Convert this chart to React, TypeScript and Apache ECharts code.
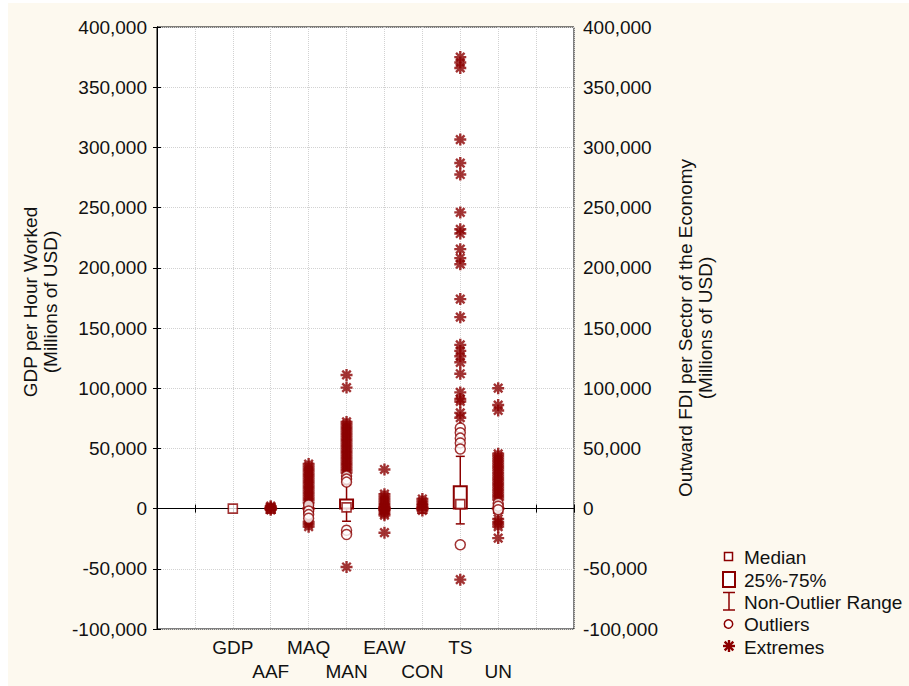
import React, { useEffect, useRef } from "react";
import * as echarts from "echarts";

// ---------- data ----------
const CATEGORIES = ["GDP", "AAF", "MAQ", "MAN", "EAW", "CON", "TS", "UN"];
const CAT_OFFSET = 2; // first category sits on the third tick of the x scale
const X_MAX = 11;

const Y_MIN = -100000;
const Y_MAX = 400000;
const Y_STEP = 50000;

// box statistics (null = no box drawn)
const Q1 = [null, 0, 0, 0, 0, 0, 0, 0];
const Q3 = [null, 0, 0, 7500, 0, 0, 18500, 0];
const MEDIAN = [0, 0, 0, 1000, 0, 0, 3700, 0];
const WHISKER_LOW = [null, 0, 0, -10500, 0, 0, -12700, 0];
const WHISKER_HIGH = [null, 0, 0, 20000, 0, 0, 43400, 0];

// extremes (asterisks) per category
const EXTREMES_GDP: number[] = [];
const EXTREMES_AAF = [2000, 1000, 0, -1000];
const EXTREMES_MAQ = [
  37000, 35000, 33000, 31000, 29000, 27000, 25000, 23000, 21000, 19000, 17000,
  15000, 13000, 11000, 9000, 7000, 5000, -11000, -13000, -15000,
];
const EXTREMES_MAN = [
  111000, 100500, 72000, 70000, 68000, 66000, 64000, 62000, 60000, 58000, 56000,
  54000, 52000, 50000, 48000, 46000, 44000, 42000, 40000, 38000, 36000, 34000,
  32000, 30000, -48500,
];
const EXTREMES_EAW = [
  32500, 12000, 10000, 8000, 6000, 4000, 2000, 1000, -1000, -2000, -4000, -5500,
  -20000,
];
const EXTREMES_CON = [8000, 6000, 4000, 2500, 1000, -1500];
const EXTREMES_TS = [
  375000, 370500, 366000, 306500, 287000, 277500, 246000, 232000, 228500,
  215500, 208000, 203000, 174000, 159000, 136000, 131000, 126500, 121500,
  112000, 96500, 91000, 89000, 79500, 75500, -59000,
];
const EXTREMES_UN = [
  100000, 86000, 81500, 45500, 43500, 41500, 39500, 37500, 35500, 33500, 31500,
  29500, 27500, 25500, 23500, 21500, 19500, 17500, 15500, 13500, 11500, 9500,
  7500, -8500, -11000, -13000, -15000, -24500,
];

// outliers (circles) per category
const OUTLIERS_GDP: number[] = [];
const OUTLIERS_AAF: number[] = [];
const OUTLIERS_MAQ = [3000, -2000, -5000, -8000];
const OUTLIERS_MAN = [27000, 24500, 22000, -18000, -21500];
const OUTLIERS_EAW: number[] = [];
const OUTLIERS_CON: number[] = [];
const OUTLIERS_TS = [67000, 63000, 58500, 54500, 49500, -30000];
const OUTLIERS_UN = [4500, 2000, -1000];

const EXTREMES = [
  EXTREMES_GDP, EXTREMES_AAF, EXTREMES_MAQ, EXTREMES_MAN,
  EXTREMES_EAW, EXTREMES_CON, EXTREMES_TS, EXTREMES_UN,
];
const OUTLIERS = [
  OUTLIERS_GDP, OUTLIERS_AAF, OUTLIERS_MAQ, OUTLIERS_MAN,
  OUTLIERS_EAW, OUTLIERS_CON, OUTLIERS_TS, OUTLIERS_UN,
];

const LEFT_TITLE = ["GDP per Hour Worked", "(Millions of USD)"];
const RIGHT_TITLE = ["Outward FDI per Sector of the Economy", "(Millions of USD)"];
const LEGEND_LABELS = ["Median", "25%-75%", "Non-Outlier Range", "Outliers", "Extremes"];

// ---------- styles ----------
const RED = "#8b0000";
const BG = "#fdf9ef";
const FONT = "'Liberation Sans', Arial, Helvetica, sans-serif";
const TXT = "#111";
const STAR = "path://M6,0L6,12M0,6L12,6M1.76,1.76L10.24,10.24M10.24,1.76L1.76,10.24";

export default function App() {
  const ref = useRef<HTMLDivElement>(null);

  useEffect(() => {
    if (!ref.current) return;
    const chart = echarts.init(ref.current, undefined, { renderer: "svg" });

    const boxData: any[] = [];
    CATEGORIES.forEach((c, i) => {
      if (Q1[i] === null) return;
      boxData.push([i + CAT_OFFSET, Q1[i], Q3[i], WHISKER_LOW[i], WHISKER_HIGH[i]]);
    });
    const medianData = CATEGORIES.map((c, i) => [i + CAT_OFFSET, MEDIAN[i]]);
    const extremeData: any[] = [];
    const outlierData: any[] = [];
    CATEGORIES.forEach((c, i) => {
      EXTREMES[i].forEach((v) => extremeData.push([i + CAT_OFFSET, v]));
      OUTLIERS[i].forEach((v) => outlierData.push([i + CAT_OFFSET, v]));
    });

    const fmtY = (v: number) => v.toLocaleString("en-US");
    const fmtX = (v: number) => {
      const idx = Math.round(v) - CAT_OFFSET;
      if (idx < 0 || idx >= CATEGORIES.length) return "";
      return (idx % 2 === 1 ? "\n" : "") + CATEGORIES[idx];
    };

    const grid = { left: 149, right: 335, top: 24, bottom: 57 };

    const legendY = [554, 577, 599, 621, 644];
    const legendGraphics: any[] = [
      {
        type: "rect",
        shape: { x: 716.5, y: 549.5, width: 8, height: 8 },
        style: { fill: "#fff", stroke: RED, lineWidth: 1.5 },
      },
      {
        type: "rect",
        shape: { x: 715, y: 569, width: 12, height: 15 },
        style: { fill: "#fff", stroke: RED, lineWidth: 2 },
      },
      {
        type: "group",
        children: [
          { type: "line", shape: { x1: 715, y1: 589.5, x2: 727, y2: 589.5 }, style: { stroke: RED, lineWidth: 1.5 } },
          { type: "line", shape: { x1: 715, y1: 607, x2: 727, y2: 607 }, style: { stroke: RED, lineWidth: 1.5 } },
          { type: "line", shape: { x1: 721, y1: 589.5, x2: 721, y2: 607 }, style: { stroke: RED, lineWidth: 1.5 } },
        ],
      },
      {
        type: "circle",
        shape: { cx: 720.5, cy: 621, r: 4.2 },
        style: { fill: "#fff", stroke: RED, lineWidth: 1.5 },
      },
      {
        type: "group",
        x: 721,
        y: 643,
        children: [
          { type: "line", shape: { x1: 0, y1: -6, x2: 0, y2: 6 }, style: { stroke: RED, lineWidth: 2.4 } },
          { type: "line", shape: { x1: -6, y1: 0, x2: 6, y2: 0 }, style: { stroke: RED, lineWidth: 2.4 } },
          { type: "line", shape: { x1: -4.3, y1: -4.3, x2: 4.3, y2: 4.3 }, style: { stroke: RED, lineWidth: 2.4 } },
          { type: "line", shape: { x1: 4.3, y1: -4.3, x2: -4.3, y2: 4.3 }, style: { stroke: RED, lineWidth: 2.4 } },
        ],
      },
      ...LEGEND_LABELS.map((t, i) => ({
        type: "text",
        x: 736,
        y: legendY[i],
        style: { text: t, fontSize: 19, fontFamily: FONT, fill: TXT, align: "left", verticalAlign: "middle" },
      })),
    ];

    const titleText = (text: string, x: number, y: number) => ({
      type: "text",
      x,
      y,
      rotation: Math.PI / 2,
      style: { text, fontSize: 19, fontFamily: FONT, fill: TXT, align: "center", verticalAlign: "middle" },
    });

    chart.setOption({
      animation: false,
      backgroundColor: BG,
      textStyle: { fontFamily: FONT },
      grid: { ...grid, show: true, backgroundColor: "#fff", borderColor: "#000", borderWidth: 1 },
      xAxis: [
        {
          type: "value",
          position: "bottom",
          min: 0,
          max: X_MAX,
          interval: 1,
          axisLine: { show: true, lineStyle: { color: "#000", width: 1 } },
          axisTick: { show: true, inside: true, length: 4, lineStyle: { color: "#000" } },
          axisLabel: {
            formatter: fmtX,
            fontSize: 19,
            lineHeight: 24,
            color: TXT,
            margin: 6,
            fontFamily: FONT,
          },
          splitLine: { show: true, lineStyle: { color: "#d2d2d2", type: "dotted", width: 1 } },
        },
        {
          type: "value",
          position: "top",
          min: 0,
          max: X_MAX,
          interval: 1,
          axisLine: { show: true, lineStyle: { color: "#000", width: 1 } },
          axisTick: { show: true, inside: true, length: 4, lineStyle: { color: "#000" } },
          axisLabel: { show: false },
          splitLine: { show: false },
        },
      ],
      yAxis: [
        {
          type: "value",
          position: "left",
          min: Y_MIN,
          max: Y_MAX,
          interval: Y_STEP,
          axisLine: { show: true, lineStyle: { color: "#000", width: 1 } },
          axisTick: { show: true, inside: true, length: 4, lineStyle: { color: "#000" } },
          axisLabel: { formatter: fmtY, fontSize: 19, color: TXT, margin: 10, fontFamily: FONT },
          splitLine: { show: true, lineStyle: { color: "#d2d2d2", type: "dotted", width: 1 } },
        },
        {
          type: "value",
          position: "right",
          min: Y_MIN,
          max: Y_MAX,
          interval: Y_STEP,
          axisLine: { show: true, lineStyle: { color: "#000", width: 1 } },
          axisTick: { show: true, inside: true, length: 4, lineStyle: { color: "#000" } },
          axisLabel: { formatter: fmtY, fontSize: 19, color: TXT, margin: 9, fontFamily: FONT },
          splitLine: { show: false },
        },
      ],
      series: [
        {
          type: "custom",
          name: "box",
          xAxisIndex: 0,
          yAxisIndex: 0,
          data: boxData,
          renderItem: (params: any, api: any) => {
            const x = api.value(0);
            const p1 = api.coord([x, api.value(1)]);
            const p3 = api.coord([x, api.value(2)]);
            const pl = api.coord([x, api.value(3)]);
            const ph = api.coord([x, api.value(4)]);
            const ls = { stroke: RED, lineWidth: 1.5 };
            const cx = p1[0];
            return {
              type: "group",
              children: [
                { type: "line", shape: { x1: cx, y1: ph[1], x2: cx, y2: p3[1] }, style: ls },
                { type: "line", shape: { x1: cx, y1: pl[1], x2: cx, y2: p1[1] }, style: ls },
                { type: "line", shape: { x1: cx - 4.5, y1: ph[1], x2: cx + 4.5, y2: ph[1] }, style: ls },
                { type: "line", shape: { x1: cx - 4.5, y1: pl[1], x2: cx + 4.5, y2: pl[1] }, style: ls },
                {
                  type: "rect",
                  shape: { x: cx - 6.5, y: p3[1], width: 13, height: p1[1] - p3[1] },
                  style: { fill: "#fff", stroke: RED, lineWidth: 2 },
                },
              ],
            };
          },
          z: 2,
        },
        {
          type: "scatter",
          name: "Median",
          data: medianData,
          symbol: "rect",
          symbolSize: 9,
          itemStyle: { color: "#fff", borderColor: RED, borderWidth: 1.6 },
          z: 3,
        },
        {
          type: "scatter",
          name: "Extremes",
          data: extremeData,
          symbol: STAR,
          symbolSize: 12,
          itemStyle: { color: RED, borderColor: RED, borderWidth: 2.4 },
          z: 4,
        },
        {
          type: "scatter",
          name: "Outliers",
          data: outlierData,
          symbol: "circle",
          symbolSize: 10,
          itemStyle: { color: "#fff", borderColor: RED, borderWidth: 1.5 },
          z: 5,
        },
      ],
      graphic: [
        titleText(LEFT_TITLE[0], 22, 299),
        titleText(LEFT_TITLE[1], 42, 299),
        titleText(RIGHT_TITLE[0], 677, 325),
        titleText(RIGHT_TITLE[1], 697, 325),
        ...legendGraphics,
      ],
    });

    return () => chart.dispose();
  }, []);

  return (
    <div
      ref={ref}
      style={{ position: "absolute", left: 8, top: 3, width: 901, height: 683 }}
    />
  );
}
